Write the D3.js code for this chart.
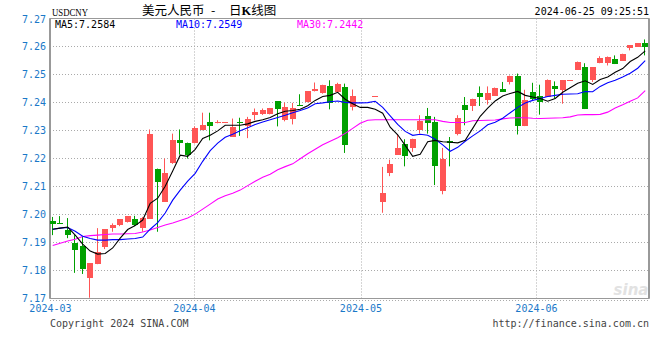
<!DOCTYPE html>
<html>
<head>
<meta charset="utf-8">
<script src="https://cdn.jsdelivr.net/npm/d3@7"></script>
<style>
  html, body { margin: 0; padding: 0; background: #fff; }
  svg { display: block; }
  .mono { font-family: "DejaVu Sans Mono", "Liberation Mono", monospace; font-size: 10px; }
</style>
</head>
<body>
<svg id="chart" width="660" height="360"></svg>
<script>
// daily candles, one slot per trading day (null = empty slot)
var open = [7.1975,7.1970,7.1943,7.1895,7.1886,7.1769,7.1821,7.1882,7.1951,7.1962,
  7.1972,7.1982,7.1953,7.1983,7.2163,7.2044,7.2180,7.2264,7.2256,7.2253,
  7.2300,7.2328,7.2325,7.2331,7.2276,7.2329,7.2318,7.2354,7.2355,7.2357,
  7.2404,7.2336,7.2340,7.2391,7.2400,7.2439,7.2431,7.2457,7.2435,7.2455,
  7.2383,null,null,7.2421,7.2044,7.2148,7.2212,7.2250,7.2236,7.2300,
  7.2350,7.2330,7.2083,7.2261,7.2288,7.2389,7.2387,7.2433,7.2411,7.2423,
  7.2446,7.2476,7.2493,7.2315,7.2436,7.2421,7.2419,7.2457,7.2445,7.2479,
  7.2517,7.2526,7.2479,7.2540,7.2544,7.2554,7.2550,7.2594,7.2598,7.2612];
var high = [7.1990,7.1993,7.1986,7.1925,7.1919,7.1824,7.1950,7.1946,7.1967,7.1982,
  7.1993,7.1994,7.1990,7.2303,7.2163,7.2199,7.2288,7.2303,7.2256,7.2314,
  7.2363,7.2363,7.2336,7.2331,7.2342,7.2345,7.2348,7.2378,7.2378,7.2380,
  7.2404,7.2399,7.2398,7.2429,7.2439,7.2471,7.2463,7.2479,7.2470,7.2467,
  7.2446,null,null,7.2421,7.2169,7.2195,7.2286,7.2268,7.2270,7.2354,
  7.2380,7.2348,7.2237,7.2276,7.2354,7.2419,7.2413,7.2457,7.2457,7.2453,
  7.2473,7.2496,7.2503,7.2445,7.2470,7.2463,7.2482,7.2475,7.2479,7.2479,
  7.2546,7.2540,7.2526,7.2565,7.2564,7.2568,7.2574,7.2604,7.2612,7.2625];
var low = [7.1925,7.1968,7.1914,7.1790,7.1786,7.1701,7.1821,7.1875,7.1937,7.1957,
  7.1970,7.1957,7.1937,7.1983,7.1937,7.2044,7.2180,7.2213,7.2199,7.2253,
  7.2300,7.2264,7.2325,7.2331,7.2276,7.2280,7.2272,7.2336,7.2355,7.2357,
  7.2314,7.2332,7.2321,7.2387,7.2400,7.2439,7.2431,7.2375,7.2435,7.2219,
  7.2371,null,null,7.2421,7.2005,7.2136,7.2212,7.2171,7.2223,7.2288,
  7.2288,7.2104,7.2071,7.2171,7.2282,7.2318,7.2369,7.2387,7.2392,7.2423,
  7.2437,7.2464,7.2285,7.2315,7.2407,7.2356,7.2419,7.2413,7.2395,7.2479,
  7.2517,7.2376,7.2473,7.2540,7.2532,7.2537,7.2550,7.2586,7.2598,7.2568];
var close = [7.1965,7.1968,7.1925,7.1869,7.1803,7.1824,7.1863,7.1946,7.1960,7.1982,
  7.1993,7.1962,7.1988,7.2288,7.2115,7.2146,7.2264,7.2253,7.2212,7.2308,
  7.2318,7.2315,7.2329,7.2331,7.2311,7.2325,7.2342,7.2365,7.2371,7.2380,
  7.2375,7.2382,7.2381,7.2388,7.2439,7.2446,7.2461,7.2395,7.2464,7.2246,
  7.2421,null,null,7.2421,7.2076,7.2179,7.2236,7.2207,7.2268,7.2332,
  7.2326,7.2171,7.2196,7.2255,7.2344,7.2371,7.2413,7.2419,7.2435,7.2450,
  7.2437,7.2496,7.2315,7.2407,7.2410,7.2399,7.2479,7.2445,7.2479,7.2479,
  7.2546,7.2376,7.2526,7.2558,7.2564,7.2537,7.2574,7.2604,7.2612,7.2598];

// moving averages as drawn on the chart
var ma5 = [7.1946,7.1950,7.1954,7.1925,7.1893,7.1868,7.1857,7.1859,7.1879,7.1914,
  7.1945,7.1959,7.1979,7.2039,7.2057,7.2100,7.2154,7.2211,7.2207,7.2232,
  7.2271,7.2282,7.2298,7.2318,7.2318,7.2318,7.2323,7.2332,7.2338,7.2346,
  7.2359,7.2368,7.2371,7.2375,7.2388,7.2407,7.2421,7.2425,7.2436,7.2411,
  7.2395,7.2382,7.2382,7.2375,7.2361,7.2311,7.2284,7.2246,7.2207,7.2214,
  7.2259,7.2264,7.2259,7.2257,7.2255,7.2264,7.2307,7.2350,7.2379,7.2405,
  7.2423,7.2432,7.2439,7.2425,7.2419,7.2414,7.2404,7.2414,7.2436,7.2452,
  7.2468,7.2477,7.2464,7.2482,7.2491,7.2508,7.2521,7.2546,7.2561,7.2584];
var ma10 = [7.1946,7.1950,7.1952,7.1939,7.1921,7.1913,7.1907,7.1907,7.1909,7.1909,
  7.1911,7.1913,7.1918,7.1946,7.1970,7.2004,7.2050,7.2086,7.2118,7.2146,
  7.2189,7.2227,7.2254,7.2275,7.2286,7.2298,7.2309,7.2321,7.2330,7.2338,
  7.2346,7.2354,7.2363,7.2371,7.2380,7.2395,7.2398,7.2402,7.2405,7.2400,
  7.2398,7.2398,7.2399,7.2404,7.2382,7.2352,7.2321,7.2296,7.2282,7.2286,
  7.2282,7.2268,7.2248,7.2225,7.2239,7.2261,7.2280,7.2298,7.2320,7.2329,
  7.2343,7.2363,7.2382,7.2398,7.2407,7.2414,7.2421,7.2425,7.2429,7.2430,
  7.2431,7.2439,7.2438,7.2457,7.2470,7.2479,7.2491,7.2504,7.2522,7.2549];
var ma30 = [7.1888,7.1896,7.1904,7.1910,7.1920,7.1923,7.1925,7.1927,7.1929,7.1929,
  7.1930,7.1931,7.1936,7.1943,7.1952,7.1961,7.1968,7.1977,7.1986,7.2000,
  7.2018,7.2036,7.2054,7.2066,7.2075,7.2086,7.2102,7.2118,7.2132,7.2143,
  7.2159,7.2170,7.2180,7.2198,7.2216,7.2232,7.2248,7.2261,7.2273,7.2289,
  7.2307,7.2325,7.2336,7.2338,7.2338,7.2338,7.2338,7.2338,7.2338,7.2338,
  7.2338,7.2338,7.2332,7.2328,7.2328,7.2328,7.2334,7.2335,7.2336,7.2337,
  7.2341,7.2344,7.2345,7.2345,7.2343,7.2342,7.2343,7.2344,7.2345,7.2348,
  7.2355,7.2356,7.2356,7.2357,7.2365,7.2380,7.2391,7.2404,7.2416,7.2442];

var yTicks = [7.17,7.18,7.19,7.20,7.21,7.22,7.23,7.24,7.25,7.26,7.27];
var monthLabels = ["2024-03","2024-04","2024-05","2024-06"];
var monthPos = [-0.3, 18.9, 41.1, 64.5];   // slot index where each month starts

(function(){
var svg = d3.select("#chart");
var pLeft = 50, pRight = 649, pTop = 18.5, pBottom = 298.5;
var upColor = "#ff5555", downColor = "#00a000";
var axisBlue = "#1a78c8";

var x = d3.scaleLinear().domain([0, 79]).range([52.7, 645.2]);
var y = d3.scaleLinear().domain([7.17, 7.27]).range([pBottom - 0.5, pTop]);

// header
svg.append("text").attr("x", 52).attr("y", 16)
  .attr("font-family", "Liberation Serif, serif").attr("font-size", 10.5)
  .attr("textLength", 36).attr("lengthAdjust", "spacingAndGlyphs")
  .text("USDCNY");
var title = svg.append("text").attr("y", 15)
  .attr("font-family", "Noto Sans CJK SC, sans-serif").attr("font-size", 12.5);
title.append("tspan").attr("x", 142).text("美元人民币");
title.append("tspan").attr("x", 211).text("-");
title.append("tspan").attr("x", 229).text("日");
title.append("tspan").attr("font-weight", "bold").attr("font-family", "Liberation Serif, serif").text("K");
title.append("tspan").text("线图");
svg.append("text").attr("class", "mono").attr("x", 649).attr("y", 15)
  .attr("text-anchor", "end").attr("fill", "#000")
  .text("2024-06-25 09:25:51");

// grid
var grid = svg.append("g").attr("stroke", "#aaa").attr("stroke-dasharray", "1,2");
grid.selectAll(".hg").data(yTicks.slice(1, -1)).enter().append("line")
  .attr("x1", pLeft).attr("x2", pRight)
  .attr("y1", function(d){ return Math.round(y(d)) + 0.5; })
  .attr("y2", function(d){ return Math.round(y(d)) + 0.5; });
grid.selectAll(".vg").data(monthPos.slice(1)).enter().append("line")
  .attr("y1", pTop).attr("y2", pBottom)
  .attr("x1", function(d){ return Math.round(x(d)) + 0.5; })
  .attr("x2", function(d){ return Math.round(x(d)) + 0.5; });
grid.append("line").attr("x1", pLeft).attr("x2", pRight)
  .attr("y1", pBottom + 2).attr("y2", pBottom + 2);

// watermark
svg.append("text").attr("x", 631).attr("y", 295).attr("text-anchor", "middle")
  .attr("font-family", "DejaVu Sans, sans-serif").attr("font-size", 15)
  .attr("font-weight", "bold").attr("font-style", "italic").attr("fill", "#e2e2e2")
  .text("sina");

// frame
svg.append("rect").attr("x", pLeft).attr("y", pTop).attr("width", pRight - pLeft).attr("height", pBottom - pTop)
  .attr("fill", "none").attr("stroke", "#999").attr("stroke-width", 1);
svg.append("line").attr("x1", pLeft).attr("x2", pLeft).attr("y1", pTop).attr("y2", pBottom)
  .attr("stroke", "#999").attr("stroke-width", 2);
svg.append("line").attr("x1", pRight).attr("x2", pRight).attr("y1", pTop).attr("y2", pBottom)
  .attr("stroke", "#999").attr("stroke-width", 2);

// axis labels
svg.selectAll(".yl").data(yTicks).enter().append("text")
  .attr("class", "mono").attr("x", 46).attr("y", function(d){ return y(d) + 4; })
  .attr("text-anchor", "end").attr("fill", axisBlue)
  .text(function(d){ return d3.format(".2f")(d); });
svg.selectAll(".xl").data(monthLabels).enter().append("text")
  .attr("class", "mono").attr("x", function(d, i){ return x(monthPos[i]); }).attr("y", 312)
  .attr("text-anchor", "middle").attr("fill", axisBlue)
  .text(function(d){ return d; });

svg.append("text").attr("class", "mono").attr("x", 50).attr("y", 327).attr("fill", "#444")
  .text("Copyright 2024 SINA.COM");
svg.append("text").attr("class", "mono").attr("x", 649).attr("y", 327).attr("fill", "#444")
  .attr("text-anchor", "end").text("http://finance.sina.com.cn");

// candles
var candles = d3.range(open.length).filter(function(i){ return open[i] !== null; });
var c = svg.append("g").selectAll(".c").data(candles).enter().append("g")
  .attr("fill", function(i){ return close[i] >= open[i] ? upColor : downColor; })
  .attr("stroke", function(i){ return close[i] >= open[i] ? upColor : downColor; });
c.append("line")
  .attr("x1", function(i){ return Math.round(x(i)) - 0.5; })
  .attr("x2", function(i){ return Math.round(x(i)) - 0.5; })
  .attr("y1", function(i){ return y(high[i]); })
  .attr("y2", function(i){ return y(low[i]); })
  .attr("stroke-width", 1);
c.append("rect")
  .attr("stroke", "none")
  .attr("x", function(i){ return Math.round(x(i)) - 3; })
  .attr("width", 6)
  .attr("y", function(i){ return Math.round(y(Math.max(open[i], close[i]))); })
  .attr("height", function(i){ return Math.max(1, Math.round(Math.abs(y(open[i]) - y(close[i])))); });

// moving average lines
var line = d3.line().x(function(d, i){ return x(i); }).y(function(d){ return y(d); });
[[ma30, "#ff00ff"], [ma10, "#0000ff"], [ma5, "#000"]].forEach(function(s){
  svg.append("path").datum(s[0]).attr("d", line)
    .attr("fill", "none").attr("stroke", s[1]).attr("stroke-width", 1.1);
});

// legend
var legend = [["MA5:7.2584", "#000", 55], ["MA10:7.2549", "#0000ff", 176], ["MA30:7.2442", "#ff00ff", 297]];
svg.selectAll(".lg").data(legend).enter().append("text")
  .attr("class", "mono").attr("x", function(d){ return d[2]; }).attr("y", 28)
  .attr("fill", function(d){ return d[1]; })
  .text(function(d){ return d[0]; });
})();
</script>
</body>
</html>
